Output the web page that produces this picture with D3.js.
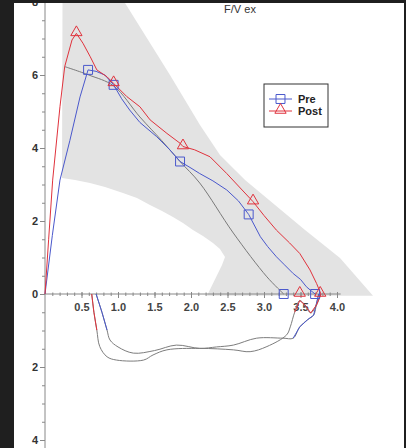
<!DOCTYPE html>
<html><head><meta charset="utf-8">
<script src="https://cdn.jsdelivr.net/npm/d3@7"></script>
<style>html,body{margin:0;padding:0;background:#1f1f1f;}svg{display:block;}</style>
</head><body>
<script>
// ---- data (volume L, flow L/s) ----
const title = "F/V ex";
const seriesNames = ["Pre", "Post"];
const xTickLabels = ["0.5","1.0","1.5","2.0","2.5","3.0","3.5","4.0"];
const yTickValues = [-4,-2,0,2,4,6,8];

const preExp = [[0,0],[0.1,1.6],[0.205,3.12],[0.34,4.2],[0.48,5.4],[0.59,6.14],[0.7,6.1],[0.82,6.0],[0.94,5.73],[1.05,5.35],[1.16,5.04],[1.3,4.7],[1.53,4.31],[1.71,3.95],[1.85,3.63],[2.0,3.45],[2.12,3.3],[2.3,3.1],[2.49,2.85],[2.65,2.55],[2.79,2.18],[2.95,1.57],[3.05,1.3],[3.17,1.02],[3.28,0.8],[3.40,0.56],[3.5,0.4],[3.58,0.2],[3.65,0.08],[3.70,0]];
const postExp = [[0,0],[0.05,1.5],[0.105,3.12],[0.205,5.13],[0.27,6.23],[0.37,6.96],[0.43,7.14],[0.52,6.87],[0.62,6.5],[0.71,6.14],[0.85,5.95],[0.94,5.77],[1.12,5.41],[1.30,5.13],[1.44,4.77],[1.67,4.4],[1.85,4.13],[1.89,4.04],[2.05,3.95],[2.26,3.76],[2.49,3.3],[2.7,2.85],[2.85,2.53],[3.0,2.15],[3.17,1.75],[3.35,1.4],[3.49,1.11],[3.63,0.66],[3.72,0.29],[3.78,0]];
const predicted = [[0.27,6.23],[0.6,6.0],[0.94,5.7],[1.3,4.85],[1.6,4.2],[1.85,3.63],[2.12,3.04],[2.58,1.67],[3.04,0.47],[3.27,0]];
const preInsp = [[0.70,0],[0.78,-0.5],[0.85,-0.99],[0.89,-1.26],[1.0,-1.45],[1.21,-1.62],[1.5,-1.55],[1.8,-1.4],[2.12,-1.49],[2.35,-1.45],[2.58,-1.4],[2.9,-1.21],[3.26,-1.21],[3.40,-1.21],[3.49,-0.9],[3.6,-0.7],[3.68,-0.58],[3.72,-0.25],[3.75,0]];
const postInsp = [[0.64,0],[0.67,-0.5],[0.71,-0.99],[0.75,-1.44],[0.85,-1.72],[0.98,-1.81],[1.35,-1.81],[1.48,-1.67],[1.67,-1.53],[2.12,-1.49],[2.58,-1.53],[2.81,-1.58],[3.04,-1.44],[3.31,-1.12],[3.36,-0.9],[3.42,-0.5],[3.49,-0.18],[3.56,-0.3],[3.64,-0.52],[3.72,-0.3],[3.78,0]];
const preMarkers = [[0.59,6.14],[0.94,5.73],[1.85,3.63],[2.79,2.18],[3.27,0],[3.70,0]];
const postMarkers = [[0.43,7.14],[0.94,5.77],[1.89,4.04],[2.85,2.53],[3.49,0],[3.77,0]];
const normalBand = [[0.24,8.2],[0.233,3.178],[0.411,3.123],[0.616,3.041],[0.822,2.932],[1.068,2.767],[1.26,2.63],[1.438,2.438],[1.603,2.274],[1.753,2.11],[1.89,1.945],[2.027,1.753],[2.164,1.589],[2.301,1.397],[2.397,1.233],[2.466,1.014],[2.425,0.795],[2.219,-0.05],[4.493,-0.05],[4.041,0.986],[3.562,1.753],[3.151,2.438],[2.74,3.123],[2.397,3.808],[2.123,4.63],[1.712,6.0],[1.096,7.97],[1.05,8.2]];

const W = 406, H = 448;
const colors = {Pre:"#4a58cc", Post:"#e0323c"};
const svg = d3.select("body").append("svg").attr("width",W).attr("height",H);
svg.append("rect").attr("width",W).attr("height",H).attr("fill","#1f1f1f");
svg.append("rect").attr("x",14).attr("y",3).attr("width",390).attr("height",445).attr("fill","#ffffff");
svg.append("clipPath").attr("id","panel").append("rect").attr("x",14).attr("y",3).attr("width",390).attr("height",445);
const g = svg.append("g").attr("clip-path","url(#panel)");

const x = d3.scaleLinear().domain([0,4]).range([45,337]);
const y = d3.scaleLinear().domain([0,6]).range([294,75]);
const line = d3.line().x(d=>x(d[0])).y(d=>y(d[1]));
const smooth = d3.line().x(d=>x(d[0])).y(d=>y(d[1])).curve(d3.curveCatmullRom);

// normal band
g.append("path").attr("d", line(normalBand)+"Z").attr("fill","#e3e3e3").attr("stroke","none");

// axes
const yAxisG = g.append("g").attr("transform",`translate(${x(0)},0)`);
yAxisG.call(d3.axisLeft(y).tickValues(d3.range(-4.5,8.01,0.5)).tickSize(3).tickFormat(""));
yAxisG.call(g2=>g2.selectAll(".tick line").attr("stroke","#888"));
const yMaj = g.append("g").attr("transform",`translate(${x(0)},0)`)
  .call(d3.axisLeft(y).tickValues(yTickValues).tickSize(5).tickFormat(d=>Math.abs(d)));
yMaj.select(".domain").remove();
yMaj.selectAll(".tick line").attr("stroke","#888");
yMaj.selectAll(".tick text").attr("font-family","Liberation Sans, Arial, sans-serif").attr("font-size",11).attr("font-weight","bold").attr("fill","#333").attr("x",-7);
yAxisG.select(".domain").attr("stroke","#888").attr("d",`M0,3V448`);

const xAxisG = g.append("g").attr("transform",`translate(0,${y(0)})`);
xAxisG.call(d3.axisBottom(x).tickValues(d3.range(0.1,4.051,0.1)).tickSize(3).tickFormat("").tickSizeOuter(0));
xAxisG.select(".domain").attr("stroke","#888").attr("d",`M${x(0)},0H${x(4.05)}`);
xAxisG.selectAll(".tick line").attr("stroke","#888").attr("y1",-1.5).attr("y2",2);
const xMaj = g.append("g").attr("transform",`translate(0,${y(0)})`)
  .call(d3.axisBottom(x).tickValues(xTickLabels.map(Number)).tickSize(4).tickFormat((d,i)=>xTickLabels[i]));
xMaj.select(".domain").remove();
xMaj.selectAll(".tick line").attr("stroke","#888").attr("y1",-2);
xMaj.selectAll(".tick text").attr("font-family","Liberation Sans, Arial, sans-serif").attr("font-size",11).attr("font-weight","bold").attr("fill","#444").attr("dy","0.9em");

// predicted
g.append("path").attr("d",smooth(predicted)).attr("fill","none").attr("stroke","#7a7a7a").attr("stroke-width",1);

// inspiratory (gray with coloured ends)
function insp(data,col){
  g.append("path").attr("d",smooth(data)).attr("fill","none").attr("stroke","#7d7d7d").attr("stroke-width",1);
  g.append("path").attr("d",line(data.slice(0,3))).attr("fill","none").attr("stroke",col).attr("stroke-width",1);
  const n=data.length;
  g.append("path").attr("d",line(data.slice(n-6))).attr("fill","none").attr("stroke",col).attr("stroke-width",1);
}
insp(preInsp,colors.Pre);
insp(postInsp,colors.Post);

// expiratory
g.append("path").attr("d",line(preExp)).attr("fill","none").attr("stroke",colors.Pre).attr("stroke-width",1);
g.append("path").attr("d",line(postExp)).attr("fill","none").attr("stroke",colors.Post).attr("stroke-width",1);

const sq = d3.symbol().type(d3.symbolSquare).size(80);
const tri = d3.symbol().type(d3.symbolTriangle).size(55);
g.selectAll(".pm").data(preMarkers).join("path").attr("d",sq).attr("transform",d=>`translate(${x(d[0])},${y(d[1])})`).attr("fill","none").attr("stroke",colors.Pre).attr("stroke-width",1);
g.selectAll(".qm").data(postMarkers).join("path").attr("d",tri).attr("transform",d=>`translate(${x(d[0])},${y(d[1])-1})`).attr("fill","none").attr("stroke",colors.Post).attr("stroke-width",1);

// title
g.append("text").attr("x",240).attr("y",13).attr("text-anchor","middle").attr("font-family","Liberation Sans, Arial, sans-serif").attr("font-size",11).attr("fill","#333").text(title);

// legend
const lg = g.append("g").attr("transform","translate(264,84)");
lg.append("rect").attr("width",64).attr("height",43).attr("fill","#fff").attr("stroke","#333").attr("stroke-width",1);
seriesNames.forEach((s,i)=>{
  const yy = 15 + i*12;
  lg.append("line").attr("x1",5).attr("x2",28).attr("y1",yy).attr("y2",yy).attr("stroke",colors[s]).attr("stroke-width",1);
  lg.append("path").attr("d", i===0?sq:tri).attr("transform",`translate(16.5,${yy - (i===0?0:1)})`).attr("fill","none").attr("stroke",colors[s]);
  lg.append("text").attr("x",34).attr("y",yy+4).attr("font-family","Liberation Sans, Arial, sans-serif").attr("font-size",11).attr("font-weight","bold").attr("fill","#222").text(s);
});
</script>
</body></html>
